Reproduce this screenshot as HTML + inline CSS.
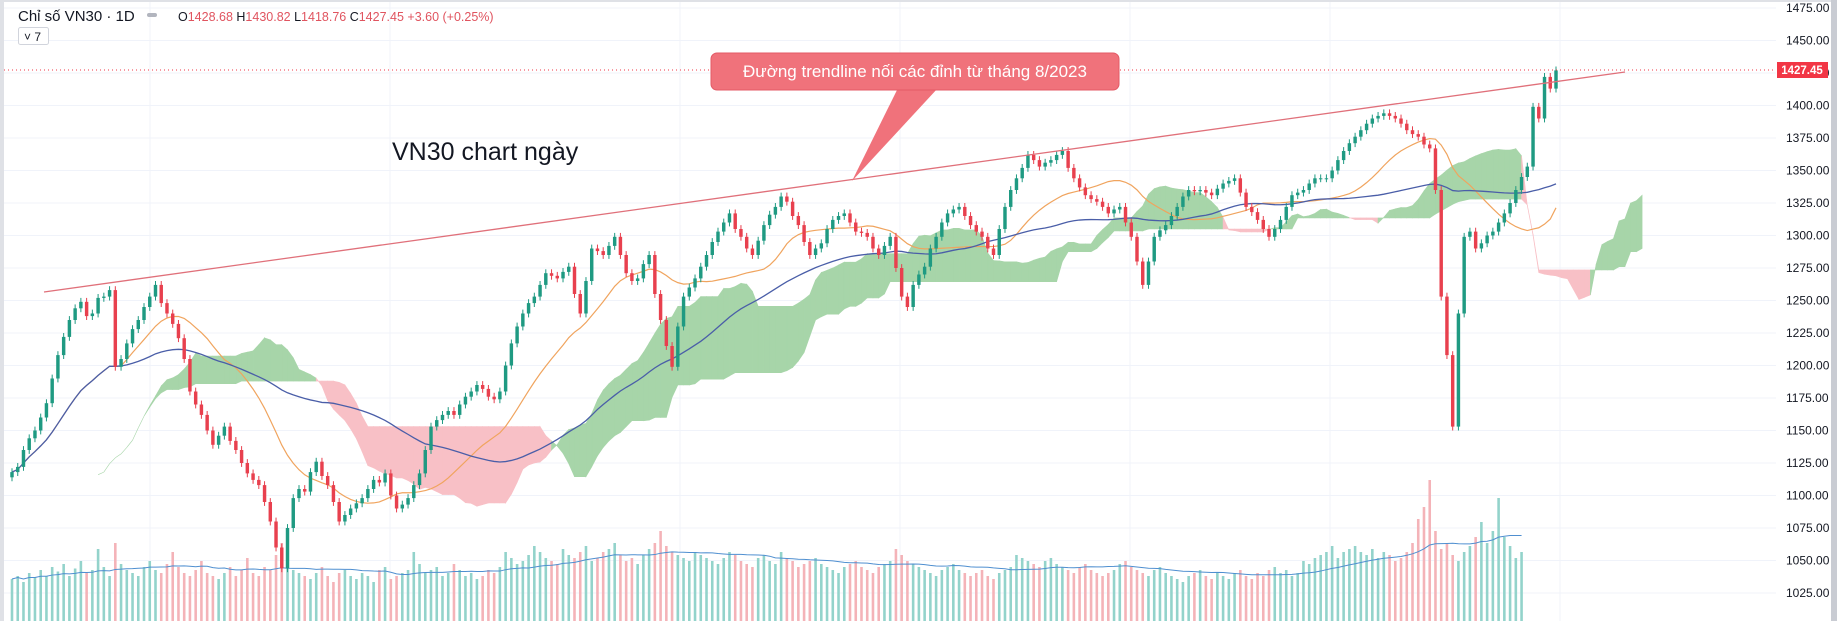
<!DOCTYPE html>
<html><head><meta charset="utf-8">
<style>
html,body{margin:0;padding:0;background:#fff;}
body{width:1837px;height:621px;overflow:hidden;position:relative;font-family:"Liberation Sans","Noto Sans CJK SC",sans-serif;}
svg{position:absolute;left:0;top:0;}
</style></head>
<body>
<svg id="chart" width="1837" height="621">
  <rect x="0" y="0" width="1837" height="621" fill="#fff"/>
  <g id="grid"></g>
  <g id="vol"></g>
  <g id="cloud"></g>
  <g id="lines"></g>
  <g id="candles"></g>
  <g id="axis"></g>
  <line x1="0" y1="70" x2="1776" y2="70" stroke="#f23645" stroke-width="1" stroke-dasharray="1,3"/>
  <line x1="44" y1="292" x2="1625" y2="72" stroke="#e0707a" stroke-width="1.3"/>
  <g>
    <polygon points="898,88 938,88 852,181" fill="#f0727b"/>
    <rect x="711" y="53" width="408" height="37" rx="6" fill="#f0727b" stroke="#e35a66" stroke-width="1"/>
    <text x="915" y="77" font-size="17" fill="#fff" text-anchor="middle">Đường trendline nối các đỉnh từ tháng 8/2023</text>
  </g>
  <text x="392" y="160" font-size="25" fill="#131722">VN30 chart ngày</text>
  <rect x="1777" y="62" width="51" height="16" fill="#f23645"/>
  <text x="1802" y="74" font-size="11.5" fill="#fff" font-weight="bold" text-anchor="middle">1427.45</text>
  <rect x="0" y="0" width="1837" height="2" fill="#dfe1e6"/>
  <rect x="0" y="0" width="4" height="621" fill="#dfe1e6"/>
  <rect x="1831" y="0" width="6" height="621" fill="#c9ccd3"/>
  <g>
    <text x="18" y="21" font-size="15" fill="#131722">Chỉ số VN30 · 1D</text>
    <rect x="147" y="13" width="10" height="4" rx="2" fill="#b2b5be"/>
    <text x="178" y="21" font-size="12.5" fill="#131722">O<tspan fill="#e0545f">1428.68</tspan> H<tspan fill="#e0545f">1430.82</tspan> L<tspan fill="#e0545f">1418.76</tspan> C<tspan fill="#e0545f">1427.45</tspan> <tspan fill="#e0545f">+3.60 (+0.25%)</tspan></text>
    <rect x="18.5" y="27.5" width="30" height="17" rx="2" fill="#fff" stroke="#d1d4dc"/>
    <text x="24" y="41" font-size="12" fill="#131722">˅ 7</text>
  </g>
</svg>
<script>
const closes = [1118,1122,1135,1144,1150,1160,1171,1190,1208,1222,1235,1244,1249,1238,1240,1252,1253,1258,1199,1205,1217,1228,1235,1245,1253,1262,1248,1240,1232,1221,1205,1180,1170,1162,1150,1139,1146,1153,1142,1135,1125,1117,1112,1108,1095,1080,1060,1044,1075,1098,1105,1103,1118,1126,1115,1108,1095,1080,1085,1090,1094,1098,1105,1112,1110,1117,1100,1090,1093,1098,1108,1117,1135,1153,1158,1162,1165,1162,1170,1176,1180,1185,1182,1176,1174,1180,1200,1217,1230,1240,1248,1253,1262,1271,1269,1267,1272,1276,1255,1240,1265,1290,1288,1285,1292,1299,1285,1271,1265,1267,1278,1285,1255,1235,1215,1199,1230,1253,1260,1267,1276,1285,1295,1303,1310,1317,1305,1299,1290,1285,1296,1308,1316,1322,1330,1326,1315,1308,1295,1285,1290,1294,1305,1312,1315,1317,1310,1303,1302,1299,1290,1285,1292,1299,1275,1253,1245,1262,1270,1276,1290,1299,1310,1317,1320,1322,1315,1308,1303,1299,1290,1285,1305,1322,1335,1344,1352,1362,1358,1353,1356,1358,1362,1365,1352,1344,1337,1331,1328,1326,1322,1317,1320,1322,1310,1299,1280,1262,1280,1299,1304,1308,1315,1322,1330,1335,1334,1335,1333,1331,1336,1340,1342,1344,1333,1322,1318,1312,1305,1299,1305,1312,1322,1331,1333,1335,1340,1344,1344,1344,1350,1358,1365,1371,1376,1381,1386,1390,1392,1394,1392,1390,1386,1381,1378,1376,1370,1367,1335,1253,1208,1153,1240,1299,1303,1290,1294,1300,1303,1310,1317,1325,1335,1345,1353,1399,1390,1422,1413,1427];
const volumes = [140,150,130,160,145,170,150,180,165,190,150,175,200,160,170,240,180,150,260,190,170,160,150,180,200,170,160,190,230,180,160,150,170,200,160,150,140,160,180,150,170,210,160,150,180,170,220,260,200,170,160,150,140,160,180,150,130,160,170,150,140,160,150,130,170,180,140,150,160,170,230,190,160,170,180,150,160,190,170,150,160,140,150,170,160,180,230,210,190,200,220,250,230,210,200,190,240,220,210,230,250,200,210,230,240,260,220,200,210,190,220,240,260,300,250,230,220,210,200,230,220,210,200,190,210,230,220,200,190,180,210,220,200,190,230,210,200,180,190,200,210,190,180,170,160,180,190,200,180,170,160,180,190,200,240,220,200,190,180,170,160,150,170,180,190,170,160,150,160,170,150,140,160,170,180,220,210,200,190,180,200,210,190,180,170,160,180,190,170,160,150,160,170,190,200,180,170,160,150,170,180,160,150,140,130,150,160,170,150,140,160,150,140,160,170,150,140,160,150,170,180,160,170,150,160,200,190,210,220,230,250,210,230,240,250,230,220,240,210,230,220,200,210,230,260,340,380,470,300,240,260,220,200,230,250,280,330,260,300,410,280,250,210,230];
const tickValues = [1475,1450,1425,1400,1375,1350,1325,1300,1275,1250,1225,1200,1175,1150,1125,1100,1075,1050,1025];

const NS = "http://www.w3.org/2000/svg";
const n = closes.length;
const X0 = 12, X1 = 1556;
const step = (X1 - X0) / (n - 1);
function xAt(i){ return X0 + i * step; }
function yAt(v){ return 8 + (1475 - v) * 1.3; }
function volY(v){ return 621 - v * 0.3; }
function mk(tag, attrs, parent){ const e = document.createElementNS(NS, tag); for (const k in attrs) e.setAttribute(k, attrs[k]); parent.appendChild(e); return e; }

const opens = closes.map((c,i)=> i===0 ? c-4 : closes[i-1]);
const highs = closes.map((c,i)=> Math.max(c, opens[i]) + 3);
const lows = closes.map((c,i)=> Math.min(c, opens[i]) - 3);

const grid = document.getElementById('grid');
const axis = document.getElementById('axis');
tickValues.forEach(v=>{
  const gl = mk('line',{x1:4,x2:1776,y1:yAt(v),y2:yAt(v),stroke:'#f0f3fa','stroke-width':1},grid);
  
  
  const t = mk('text',{x:1786,y:yAt(v)+4,'font-size':12,fill:'#131722'},axis);
  t.textContent = v.toFixed(2);
  
  
});
[150,390,680,900,1130,1330,1560].forEach(x=>{
  const gl = mk('line',{x1:x,x2:x,y1:0,y2:621,stroke:'#f0f3fa','stroke-width':1},grid);
  
  
});

const shift = 15;
function midRange(i, len){ let h=-1e9,l=1e9; for(let k=Math.max(0,i-len+1);k<=i;k++){h=Math.max(h,highs[k]);l=Math.min(l,lows[k]);} return (h+l)/2; }
const cloud = document.getElementById('cloud');
for (let i=1;i<n;i++){
  const a0=(midRange(i-1,9)+midRange(i-1,26))/2, b0=midRange(i-1,52);
  const a1=(midRange(i,9)+midRange(i,26))/2, b1=midRange(i,52);
  const xa=xAt(i-1+shift), xb=xAt(i+shift);
  const p = mk('polygon',{points:`${xa},${yAt(a0)} ${xb},${yAt(a1)} ${xb},${yAt(b1)} ${xa},${yAt(b0)}`,fill:(a1>=b1)?'#a7d5a9':'#f8c0c6',stroke:(a1>=b1)?'#a7d5a9':'#f8c0c6','stroke-width':0.6},cloud);
  
  
}

function sma(arr,len){ return arr.map((_,i)=>{ let s=0,c=0; for(let k=Math.max(0,i-len+1);k<=i;k++){s+=arr[k];c++;} return s/c; }); }
const lines = document.getElementById('lines');
const ma20 = sma(closes,20), ma50 = sma(closes,55);
const l1 = mk('path',{d:ma20.map((v,i)=>(i?'L':'M')+xAt(i)+','+yAt(v)).join(''),fill:'none',stroke:'#f0a45e','stroke-width':1.2},lines);


const l2 = mk('path',{d:ma50.map((v,i)=>(i?'L':'M')+xAt(i)+','+yAt(v)).join(''),fill:'none',stroke:'#4a5ea8','stroke-width':1.3},lines);



const vol = document.getElementById('vol');
const vn = Math.min(n, volumes.length);
const bw = Math.max(1.5, step*0.45);
for (let i=0;i<vn;i++){
  const up = closes[i] >= opens[i];
  const r = mk('rect',{x:xAt(i)-bw/2,y:volY(volumes[i]),width:bw,height:621-volY(volumes[i]),fill:up?'#93d3cb':'#f4b3b8'},vol);
  
  
}
const vma = sma(volumes.slice(0,vn),20);
const vl = mk('path',{d:vma.map((v,i)=>(i?'L':'M')+xAt(i)+','+volY(v)).join(''),fill:'none',stroke:'#4f8fd0','stroke-width':1},vol);



const cg = document.getElementById('candles');
const cw = Math.max(2, step*0.6);
for (let i=0;i<n;i++){
  const up = closes[i] >= opens[i];
  const col = up ? '#1f9a82' : '#e8404e';
  const g = mk('g',{},cg);
  
  
  mk('line',{x1:xAt(i),x2:xAt(i),y1:yAt(highs[i]),y2:yAt(lows[i]),stroke:col,'stroke-width':1},g);
  const top = yAt(Math.max(opens[i],closes[i])), bot = yAt(Math.min(opens[i],closes[i]));
  mk('rect',{x:xAt(i)-cw/2,y:top,width:cw,height:Math.max(1,bot-top),fill:col},g);
}
</script>
</body></html>
